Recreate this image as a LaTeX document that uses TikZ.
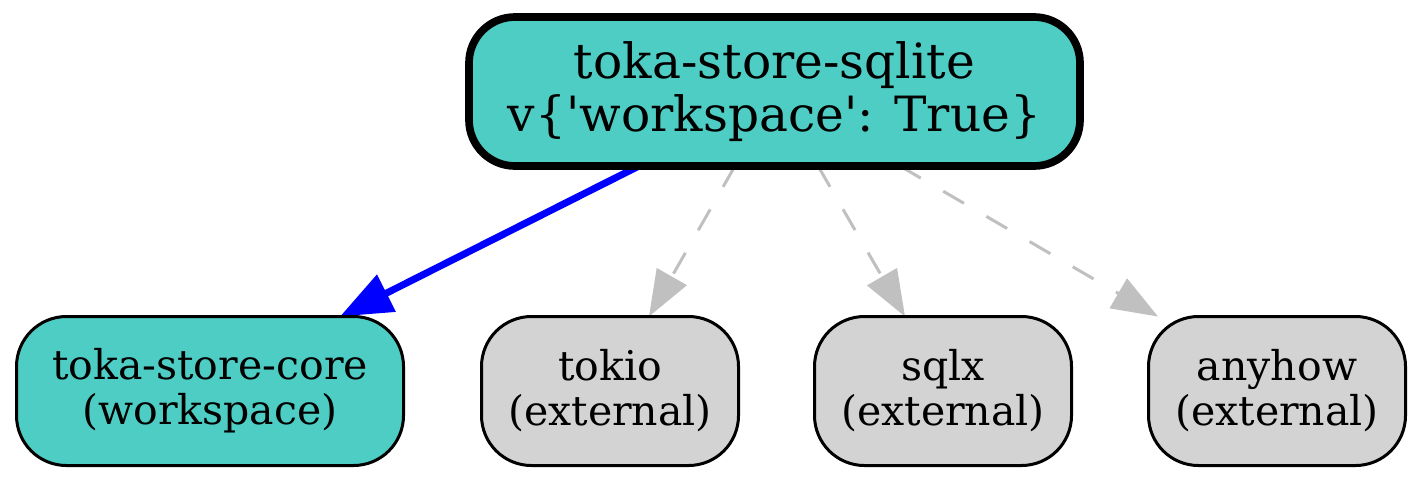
\documentclass[tikz,border=0pt]{standalone}
\usepackage{fontspec}
\setmainfont{DejaVu Serif}[Ligatures=TeXOff]
\usetikzlibrary{arrows.meta,backgrounds}
\definecolor{wsteal}{HTML}{4ECDC4}
\definecolor{extgray}{HTML}{D3D3D3}
\definecolor{edgegray}{HTML}{C0C0C0}
\begin{document}
\begin{tikzpicture}[x=0.5pt,y=-0.5pt,
  base/.style={rounded corners=25pt, draw=black, inner sep=0pt, outer sep=0pt, align=center},
  topbox/.style={base, fill=wsteal, line width=3.85pt, minimum width=305.5pt, minimum height=74.5pt, font=\fontsize{24.3}{26.5}\selectfont, rounded corners=23pt},
  wsbox/.style={base, fill=wsteal, line width=1.5pt, minimum width=193.5pt, minimum height=74.5pt, font=\fontsize{20.5}{22.5}\selectfont},
  extbox/.style={base, fill=extgray, line width=1.5pt, minimum width=128.5pt, minimum height=74.5pt, font=\fontsize{20.5}{22.5}\selectfont},
  wsedge/.style={draw=blue, line width=3.5pt, -{Triangle[length=26pt,width=20pt]}},
  extedge/.style={draw=edgegray, line width=1.5pt, dash pattern=on 12pt off 13pt, -{Triangle[length=23pt,width=17pt]}},
]
\useasboundingbox (0,0) rectangle (1423,483);
\node[topbox] (top) at (774.5,91.5) {toka-store-sqlite\\v\{'workspace': True\}};
\node[wsbox] (core) at (210,391) {toka-store-core\\(workspace)};
\node[extbox] (tokio) at (610,391) {tokio\\(external)};
\node[extbox] (sqlx) at (943,391) {sqlx\\(external)};
\node[extbox] (anyhow) at (1277,391) {anyhow\\(external)};
\begin{scope}[on background layer]
\fill[white] (0,0) rectangle (1423,483);
\draw[wsedge] ([xshift=-67.75pt]top.south) -- ([xshift=65pt]core.north);
\draw[extedge] ([xshift=-19.75pt]top.south) -- ([xshift=19.5pt]tokio.north);
\draw[extedge] ([xshift=21.75pt]top.south) -- ([xshift=-19pt]sqlx.north);
\draw[extedge] ([xshift=62.75pt]top.south) -- ([xshift=-59.5pt]anyhow.north);
\end{scope}
\end{tikzpicture}
\end{document}
